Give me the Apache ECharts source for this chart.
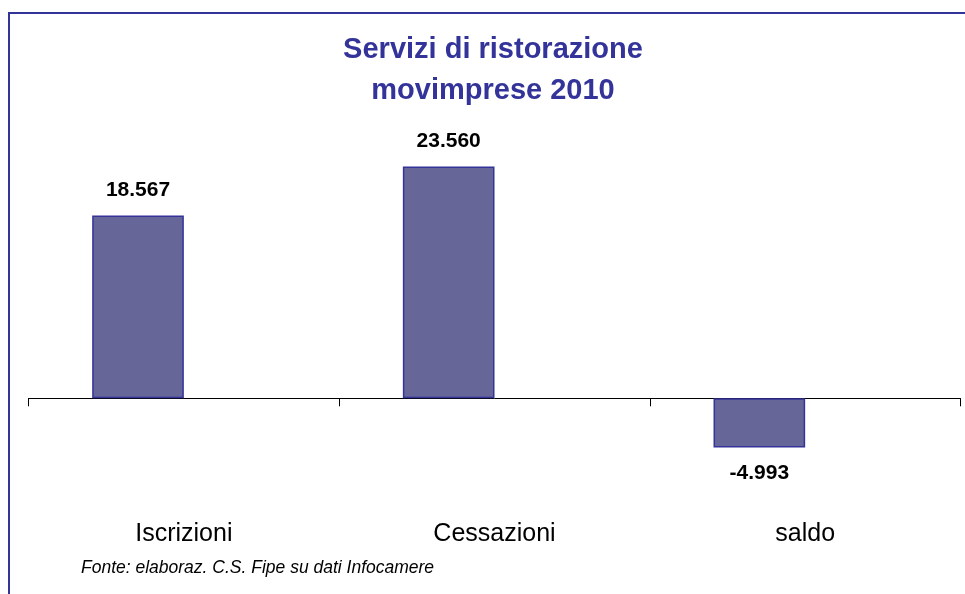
<!DOCTYPE html>
<html>
<head>
<meta charset="utf-8">
<style>
  html, body { margin: 0; padding: 0; background: #ffffff; }
  #chart { width: 965px; height: 594px; }
</style>
<script src="https://cdn.jsdelivr.net/npm/echarts@6/dist/echarts.min.js"></script>
</head>
<body>
<div id="chart"></div>
<script>
// categorie e valori (movimprese 2010)
var categories = ['Iscrizioni', 'Cessazioni', 'saldo'];
var values = [18567, 23560, -4993];
// serie vuota: in Excel c'era una seconda serie che sposta le barre a sinistra
var emptyValues = ['-', '-', '-'];

var titleText = 'Servizi di ristorazione\nmovimprese 2010';
var sourceText = 'Fonte: elaboraz. C.S. Fipe su dati Infocamere';

// formato italiano con punto per le migliaia
function fmt(v) {
  var s = Math.abs(v).toString().replace(/\B(?=(\d{3})+(?!\d))/g, '.');
  return (v < 0 ? '-' : '') + s;
}

var chart = echarts.init(document.getElementById('chart'), null, { renderer: 'canvas' });

var barData = values.map(function (v) {
  return {
    value: v,
    label: { position: v < 0 ? 'bottom' : 'top', distance: 15 }
  };
});

var option = {
  backgroundColor: '#ffffff',
  animation: false,
  textStyle: { fontFamily: 'Liberation Sans, Arial, sans-serif' },
  grid: {
    left: 28.5,
    width: 932,
    top: 103,
    bottom: 82.5,
    containLabel: false
  },
  xAxis: [
    {
      // asse sullo zero: linea e tacche
      type: 'category',
      data: categories,
      axisLine: { onZero: true, lineStyle: { color: '#000000', width: 1 } },
      axisTick: { show: true, length: 8, lineStyle: { color: '#000000' } },
      axisLabel: { show: false },
      splitLine: { show: false }
    },
    {
      // etichette in basso
      type: 'category',
      data: categories,
      position: 'bottom',
      axisLine: { show: false, onZero: false },
      axisTick: { show: false },
      axisLabel: {
        margin: 10.5,
        fontSize: 25,
        color: '#000000',
        fontFamily: 'Liberation Sans, Arial, sans-serif'
      },
      splitLine: { show: false }
    }
  ],
  yAxis: {
    type: 'value',
    min: -11500,
    max: 30000,
    show: false
  },
  series: [
    {
      type: 'bar',
      data: barData,
      barGap: '0%',
      barCategoryGap: '41%',
      itemStyle: { color: '#666699', borderColor: '#333399', borderWidth: 1.5 },
      label: {
        show: true,
        formatter: function (p) { return fmt(p.value); },
        fontSize: 21,
        fontWeight: 'bold',
        color: '#000000',
        fontFamily: 'Liberation Sans, Arial, sans-serif'
      }
    },
    {
      type: 'bar',
      data: emptyValues,
      itemStyle: { color: 'transparent' }
    }
  ],
  graphic: [
    {
      type: 'rect',
      silent: true,
      shape: { x: 9, y: 13, width: 1000, height: 1000 },
      style: { fill: null, stroke: '#333399', lineWidth: 2 }
    },
    {
      // titolo su due righe
      type: 'text',
      x: 493,
      y: 29.5,
      style: {
        text: titleText,
        fill: '#333399',
        align: 'center',
        lineHeight: 41,
        font: 'bold 29px "Liberation Sans", Arial, sans-serif'
      }
    },
    {
      type: 'text',
      left: 81,
      top: 559,
      style: {
        text: sourceText,
        fill: '#000000',
        font: 'italic 17.5px "Liberation Sans", Arial, sans-serif'
      }
    }
  ]
};

chart.setOption(option);
</script>
</body>
</html>
